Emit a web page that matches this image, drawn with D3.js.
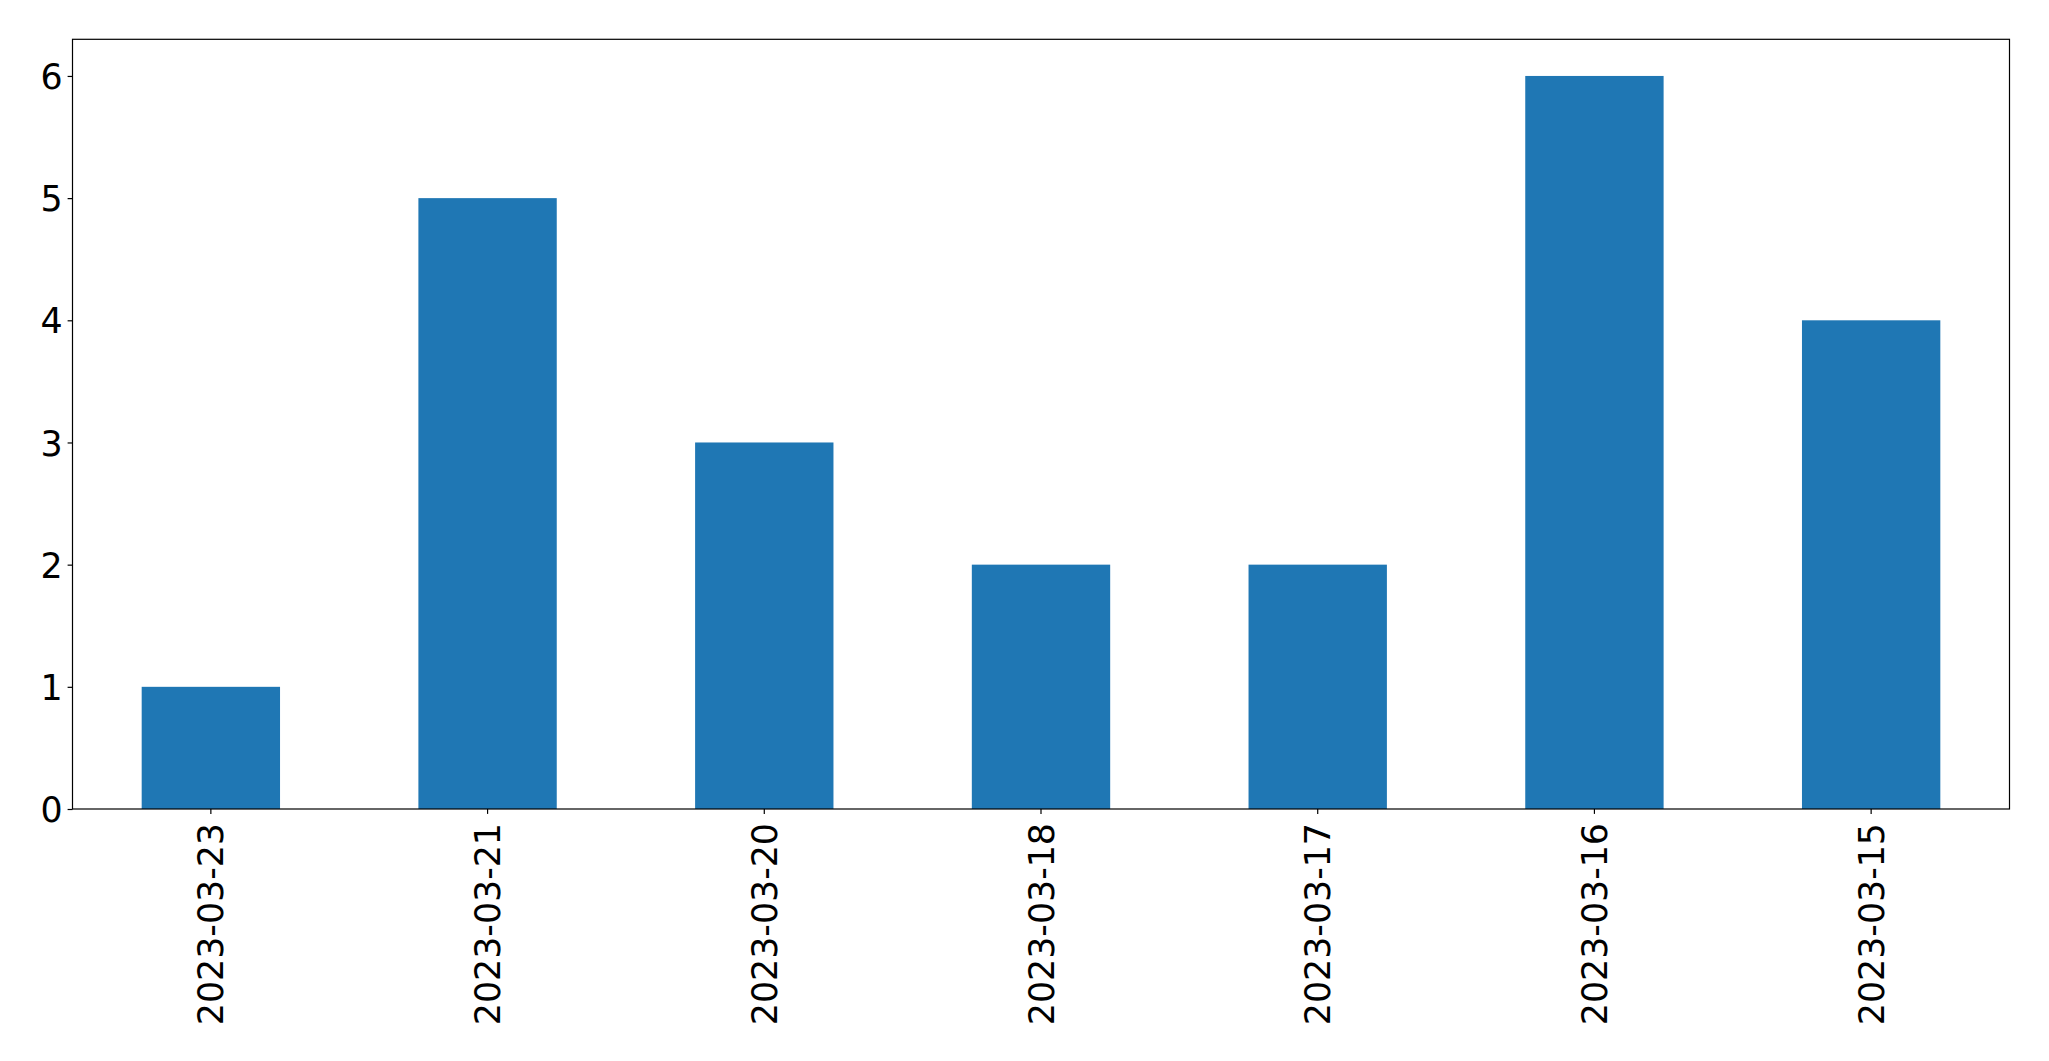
<!DOCTYPE html>
<html>
<head>
<meta charset="utf-8">
<script src="https://cdn.jsdelivr.net/npm/d3@7"></script>
<style>
html,body{margin:0;padding:0;background:#fff;}
svg{display:block;}
text{font-family:"DejaVu Sans",sans-serif;fill:#000;}
</style>
</head>
<body>
<script>
const categories = ["2023-03-23","2023-03-21","2023-03-20","2023-03-18","2023-03-17","2023-03-16","2023-03-15"];
const values = [1,5,3,2,2,6,4];
const yTicks = [0,1,2,3,4,5,6];

const W = 2049, H = 1061;
const mLeft = 72.5, mRight = 2009.5, mTop = 39.3, mBottom = 809;
const fontSize = 34.8;
const tickLen = 4.9;

const svg = d3.select("body").append("svg").attr("width", W).attr("height", H);

const x = d3.scaleBand().domain(categories).range([mLeft, mRight]).paddingInner(0.5).paddingOuter(0.25);
const y = d3.scaleLinear().domain([0, 6.3]).range([mBottom, mTop]);

svg.append("g").selectAll("rect").data(values).join("rect")
  .attr("x", (d,i) => x(categories[i]))
  .attr("width", x.bandwidth())
  .attr("y", d => y(d))
  .attr("height", d => y(0) - y(d))
  .attr("fill", "#1f77b4");

// y axis
const yAxis = d3.axisLeft(y).tickValues(yTicks).tickFormat(d3.format("d")).tickSize(tickLen).tickPadding(5);
const gy = svg.append("g").attr("transform", `translate(${mLeft},0)`).call(yAxis);
gy.select(".domain").remove();
gy.selectAll("line").attr("stroke","#000").attr("stroke-width",1.2);
gy.selectAll("text").attr("font-size", fontSize).attr("font-family","DejaVu Sans").attr("dy","0.36em");

// x axis
const xAxis = d3.axisBottom(x).tickSize(tickLen).tickPadding(5);
const gx = svg.append("g").attr("transform", `translate(0,${mBottom})`).call(xAxis);
gx.select(".domain").remove();
gx.selectAll("line").attr("stroke","#000").attr("stroke-width",1.2);
gx.selectAll("text")
  .attr("font-size", fontSize).attr("font-family","DejaVu Sans")
  .attr("transform","rotate(-90)")
  .attr("text-anchor","end")
  .attr("x", -14)
  .attr("y", 0)
  .attr("dy","0.36em");

// frame
svg.append("rect").attr("x", mLeft).attr("y", mTop).attr("width", mRight-mLeft).attr("height", mBottom-mTop)
  .attr("fill","none").attr("stroke","#000").attr("stroke-width",1.2);
</script>
</body>
</html>
